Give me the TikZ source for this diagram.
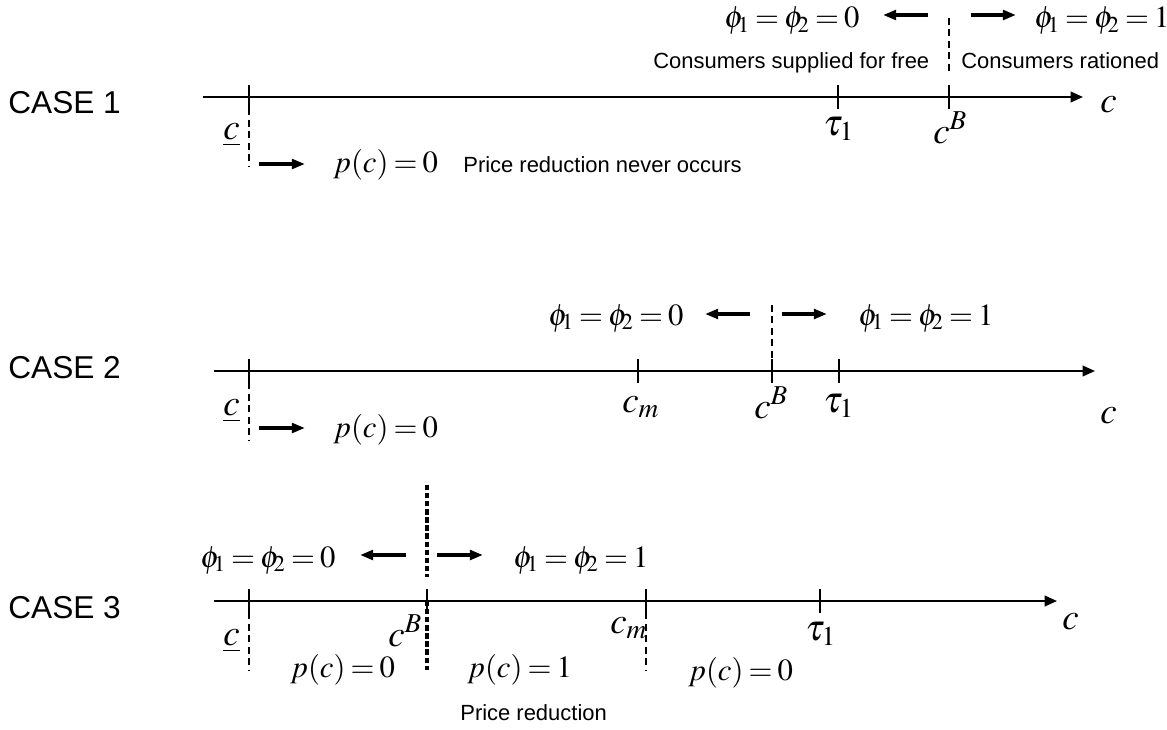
\documentclass[tikz,border=0pt]{standalone}
\usepackage{mathptmx}
\usepackage[no-math]{fontspec}
\newfontfamily\arial{Liberation Sans}
\usetikzlibrary{arrows.meta}
\newcommand{\tightmath}{\thickmuskip=3mu plus 1mu\relax}
\newcommand{\phisub}[1]{\phi_{\!#1}}
\tikzstyle{axisline} = [line width=1.1pt, -{Triangle[length=7pt,width=6pt]}]
\tikzstyle{tickmark} = [line width=0.6pt]
\tikzstyle{cut} = [line width=0.8pt, dash pattern=on 4pt off 2.5pt]
\tikzstyle{boldcut} = [line width=1.8pt, dash pattern=on 3pt off 1.6pt]
\tikzstyle{dirarrow} = [line width=1.9pt, -{Triangle[length=7.5pt,width=5.5pt]}]
\tikzstyle{casename} = [anchor=base west, inner sep=0pt, font=\arial\fontsize{18}{20}\selectfont]
\tikzstyle{note} = [anchor=base west, inner sep=0pt, font=\arial\fontsize{12.5}{14}\selectfont]
\tikzstyle{formula} = [anchor=base west, inner sep=0pt, font=\fontsize{17.5}{20}\selectfont\tightmath]
\tikzstyle{pointlabel} = [anchor=base west, inner sep=0pt, font=\fontsize{21}{24}\selectfont]

\begin{document}
\begin{tikzpicture}[x=0.02cm, y=-0.02cm]
\useasboundingbox (0,0) rectangle (1167,730);

% case 1
\node[casename] (case1) at (8,113) {CASE 1};
\coordinate (a1s) at (203,97);
\coordinate (a1e) at (1083,97);
\draw[axisline] (a1s) -- (a1e);
\foreach \x in {249, 838, 949} {
    \draw[tickmark] (\x,85) -- (\x,109);
}
\coordinate (cut1a) at (249,97);
\coordinate (cut1b) at (249,166);
\coordinate (cut1c) at (949,18);
\coordinate (cut1d) at (949,75);
\draw[cut] (cut1a) -- (cut1b);
\draw[cut] (cut1c) -- (cut1d);
\node[pointlabel] (low1) at (223,139) {$\underline{c}$};
\node[pointlabel] (tau1) at (823,135) {$\tau_1$};
\node[pointlabel] (cb1) at (933,143) {$c^B$};
\node[pointlabel] (end1) at (1100,112) {$c$};
\node[formula] (phizero1) at (724,28) {$\phisub1=\phisub2=0$};
\node[formula] (phione1) at (1034,28) {$\phisub1=\phisub2=1$};
\node[formula] (pzero1) at (333,172) {$p(c)=0$};
\node[note] (free1) at (653,68) {Consumers supplied for free};
\node[note] (ration1) at (961,68) {Consumers rationed};
\node[note] (never1) at (463,172) {Price reduction never occurs};
\coordinate (l1a) at (928,15);
\coordinate (l1b) at (883,15);
\coordinate (r1a) at (971,15);
\coordinate (r1b) at (1016,15);
\coordinate (p1a) at (259,164);
\coordinate (p1b) at (305,164);
\draw[dirarrow] (l1a) -- (l1b);
\draw[dirarrow] (r1a) -- (r1b);
\draw[dirarrow] (p1a) -- (p1b);

% case 2
\node[casename] (case2) at (8,378) {CASE 2};
\coordinate (a2s) at (214,371);
\coordinate (a2e) at (1095,371);
\draw[axisline] (a2s) -- (a2e);
\foreach \x in {249, 638, 772, 839} {
    \draw[tickmark] (\x,359) -- (\x,383);
}
\coordinate (cut2a) at (249,371);
\coordinate (cut2b) at (249,440);
\coordinate (cut2c) at (772,305);
\coordinate (cut2d) at (772,360);
\draw[cut] (cut2a) -- (cut2b);
\draw[cut] (cut2c) -- (cut2d);
\node[pointlabel] (low2) at (223,415) {$\underline{c}$};
\node[pointlabel] (cm2) at (622,412) {$c_m$};
\node[pointlabel] (cb2) at (754,418) {$c^B$};
\node[pointlabel] (tau2) at (823,412) {$\tau_1$};
\node[pointlabel] (end2) at (1100,423) {$c$};
\node[formula] (phizero2) at (548,325) {$\phisub1=\phisub2=0$};
\node[formula] (phione2) at (858,325) {$\phisub1=\phisub2=1$};
\node[formula] (pzero2) at (333,437) {$p(c)=0$};
\coordinate (l2a) at (750,314);
\coordinate (l2b) at (705,314);
\coordinate (r2a) at (782,314);
\coordinate (r2b) at (827,314);
\coordinate (p2a) at (259,428);
\coordinate (p2b) at (305,428);
\draw[dirarrow] (l2a) -- (l2b);
\draw[dirarrow] (r2a) -- (r2b);
\draw[dirarrow] (p2a) -- (p2b);

% case 3
\node[casename] (case3) at (8,618) {CASE 3};
\coordinate (a3s) at (214,601);
\coordinate (a3e) at (1057,601);
\draw[axisline] (a3s) -- (a3e);
\foreach \x in {249, 427, 646, 820} {
    \draw[tickmark] (\x,589) -- (\x,613);
}
\coordinate (cut3a) at (249,601);
\coordinate (cut3b) at (249,670);
\coordinate (cut3c) at (646,601);
\coordinate (cut3d) at (646,670);
\coordinate (bold3a) at (427,485);
\coordinate (bold3b) at (427,577);
\coordinate (bold3c) at (427,601);
\coordinate (bold3d) at (427,670);
\draw[cut] (cut3a) -- (cut3b);
\draw[cut] (cut3c) -- (cut3d);
\draw[boldcut] (bold3a) -- (bold3b);
\draw[boldcut] (bold3c) -- (bold3d);
\node[pointlabel] (low3) at (223,645) {$\underline{c}$};
\node[pointlabel] (cb3) at (388,646) {$c^B$};
\node[pointlabel] (cm3) at (610,633) {$c_m$};
\node[pointlabel] (tau3) at (805,640) {$\tau_1$};
\node[pointlabel] (end3) at (1062,629) {$c$};
\node[formula] (phizero3) at (200,567) {$\phisub1=\phisub2=0$};
\node[formula] (phione3) at (513,567) {$\phisub1=\phisub2=1$};
\node[formula] (pzero3) at (290,677) {$p(c)=0$};
\node[formula] (pone3) at (467,677) {$p(c)=1$};
\node[formula] (pzero3b) at (688,680) {$p(c)=0$};
\node[note] (reduce3) at (460,720) {Price reduction};
\coordinate (l3a) at (406,555);
\coordinate (l3b) at (360,555);
\coordinate (r3a) at (437,555);
\coordinate (r3b) at (483,555);
\draw[dirarrow] (l3a) -- (l3b);
\draw[dirarrow] (r3a) -- (r3b);
\end{tikzpicture}
\end{document}
